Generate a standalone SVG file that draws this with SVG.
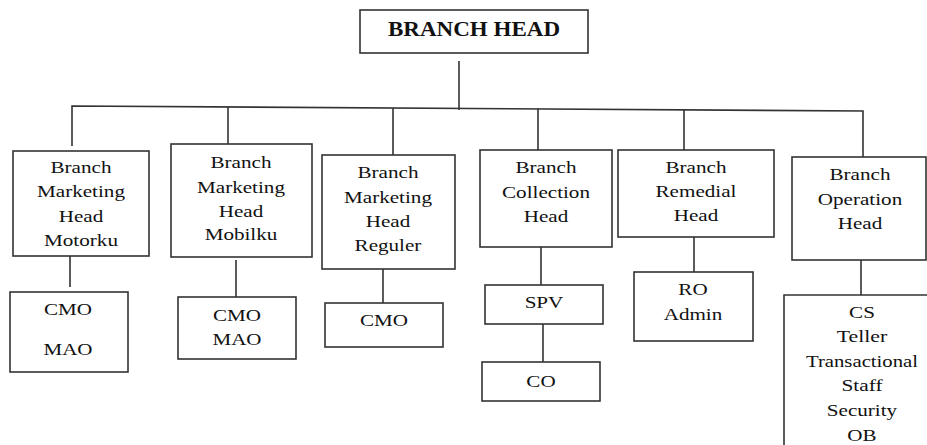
<svg xmlns="http://www.w3.org/2000/svg" width="927" height="445" viewBox="0 0 927 445">
<style>
.box{fill:#fff;stroke:#333;stroke-width:1.6}
.ln{stroke:#333;stroke-width:1.6;fill:none}
.lbl{font-family:'Liberation Serif','DejaVu Serif',serif;font-size:17px;fill:#111;text-anchor:middle}
.t{font-weight:bold;font-size:20px}
</style>
<rect width="927" height="445" fill="#fff"/>
<g id="connectors">
<line class="ln" x1="459" y1="61" x2="459" y2="110"/>
<polyline class="ln" points="72,146 72,106 863,111 863,157"/>
<line class="ln" x1="228" y1="107" x2="228" y2="144"/>
<line class="ln" x1="393" y1="108" x2="393" y2="155"/>
<line class="ln" x1="538" y1="108.5" x2="538" y2="150"/>
<line class="ln" x1="684" y1="109.5" x2="684" y2="150"/>
<line class="ln" x1="70" y1="256" x2="70" y2="287"/>
<line class="ln" x1="236" y1="260" x2="236" y2="297"/>
<line class="ln" x1="383" y1="269" x2="383" y2="303"/>
<line class="ln" x1="541" y1="247" x2="541" y2="285"/>
<line class="ln" x1="543" y1="324" x2="543" y2="362"/>
<line class="ln" x1="694" y1="237" x2="694" y2="272"/>
<line class="ln" x1="861" y1="260" x2="861" y2="295"/>
</g>
<g class="lbl" font-family="Liberation Serif, DejaVu Serif, serif">
<g id="branch-head">
<rect class="box" x="360" y="10" width="228" height="43"/>
<text class="t" x="474" y="36" textLength="172" lengthAdjust="spacingAndGlyphs">BRANCH HEAD</text>
</g>
<g id="bmh-motorku">
<rect class="box" x="13" y="151" width="136" height="105"/>
<text x="81" y="173" textLength="61" lengthAdjust="spacingAndGlyphs">Branch</text>
<text x="81" y="197" textLength="88" lengthAdjust="spacingAndGlyphs">Marketing</text>
<text x="81" y="222" textLength="44.5" lengthAdjust="spacingAndGlyphs">Head</text>
<text x="81" y="246" textLength="74" lengthAdjust="spacingAndGlyphs">Motorku</text>
</g>
<g id="bmh-mobilku">
<rect class="box" x="171" y="144" width="141" height="113"/>
<text x="241" y="168" textLength="61" lengthAdjust="spacingAndGlyphs">Branch</text>
<text x="241" y="193" textLength="88" lengthAdjust="spacingAndGlyphs">Marketing</text>
<text x="241" y="217" textLength="44.5" lengthAdjust="spacingAndGlyphs">Head</text>
<text x="241" y="240" textLength="72.7" lengthAdjust="spacingAndGlyphs">Mobilku</text>
</g>
<g id="bmh-reguler">
<rect class="box" x="322" y="155" width="133" height="114"/>
<text x="388" y="178" textLength="61" lengthAdjust="spacingAndGlyphs">Branch</text>
<text x="388" y="203" textLength="88" lengthAdjust="spacingAndGlyphs">Marketing</text>
<text x="388" y="227" textLength="44.5" lengthAdjust="spacingAndGlyphs">Head</text>
<text x="388" y="251" textLength="66.8" lengthAdjust="spacingAndGlyphs">Reguler</text>
</g>
<g id="bch">
<rect class="box" x="480" y="150" width="132" height="97"/>
<text x="546" y="173" textLength="61" lengthAdjust="spacingAndGlyphs">Branch</text>
<text x="546" y="198" textLength="88" lengthAdjust="spacingAndGlyphs">Collection</text>
<text x="546" y="222" textLength="44.5" lengthAdjust="spacingAndGlyphs">Head</text>
</g>
<g id="brh">
<rect class="box" x="618" y="150" width="156" height="87"/>
<text x="696" y="173" textLength="61" lengthAdjust="spacingAndGlyphs">Branch</text>
<text x="696" y="197" textLength="80.9" lengthAdjust="spacingAndGlyphs">Remedial</text>
<text x="696" y="221" textLength="44.5" lengthAdjust="spacingAndGlyphs">Head</text>
</g>
<g id="boh">
<rect class="box" x="792" y="157" width="134" height="103"/>
<text x="860" y="180" textLength="61" lengthAdjust="spacingAndGlyphs">Branch</text>
<text x="860" y="205" textLength="84.4" lengthAdjust="spacingAndGlyphs">Operation</text>
<text x="860" y="229" textLength="44.5" lengthAdjust="spacingAndGlyphs">Head</text>
</g>
<g id="motorku-staff">
<rect class="box" x="10" y="292" width="118" height="80"/>
<text x="68" y="315" textLength="48" lengthAdjust="spacingAndGlyphs">CMO</text>
<text x="68" y="355" textLength="49" lengthAdjust="spacingAndGlyphs">MAO</text>
</g>
<g id="mobilku-staff">
<rect class="box" x="178" y="297" width="118" height="62"/>
<text x="237" y="321" textLength="48" lengthAdjust="spacingAndGlyphs">CMO</text>
<text x="237" y="345" textLength="49" lengthAdjust="spacingAndGlyphs">MAO</text>
</g>
<g id="reguler-staff">
<rect class="box" x="325" y="303" width="118" height="44"/>
<text x="384" y="326" textLength="48" lengthAdjust="spacingAndGlyphs">CMO</text>
</g>
<g id="spv">
<rect class="box" x="485" y="285" width="118" height="39"/>
<text x="544" y="308" textLength="38.7" lengthAdjust="spacingAndGlyphs">SPV</text>
</g>
<g id="co">
<rect class="box" x="482" y="362" width="118" height="39"/>
<text x="541" y="387" textLength="29.3" lengthAdjust="spacingAndGlyphs">CO</text>
</g>
<g id="ro-admin">
<rect class="box" x="634" y="272" width="119" height="69"/>
<text x="693" y="295" textLength="29.3" lengthAdjust="spacingAndGlyphs">RO</text>
<text x="693" y="320" textLength="58.6" lengthAdjust="spacingAndGlyphs">Admin</text>
</g>
<g id="operation-staff">
<path class="box" d="M940 295 H784 V460"/>
<text x="862" y="318" textLength="25.8" lengthAdjust="spacingAndGlyphs">CS</text>
<text x="862" y="342" textLength="50.4" lengthAdjust="spacingAndGlyphs">Teller</text>
<text x="862" y="367" textLength="112" lengthAdjust="spacingAndGlyphs">Transactional</text>
<text x="862" y="391" textLength="41" lengthAdjust="spacingAndGlyphs">Staff</text>
<text x="862" y="416" textLength="70.3" lengthAdjust="spacingAndGlyphs">Security</text>
<text x="862" y="441" textLength="29.3" lengthAdjust="spacingAndGlyphs">OB</text>
</g>
</g>
</svg>
